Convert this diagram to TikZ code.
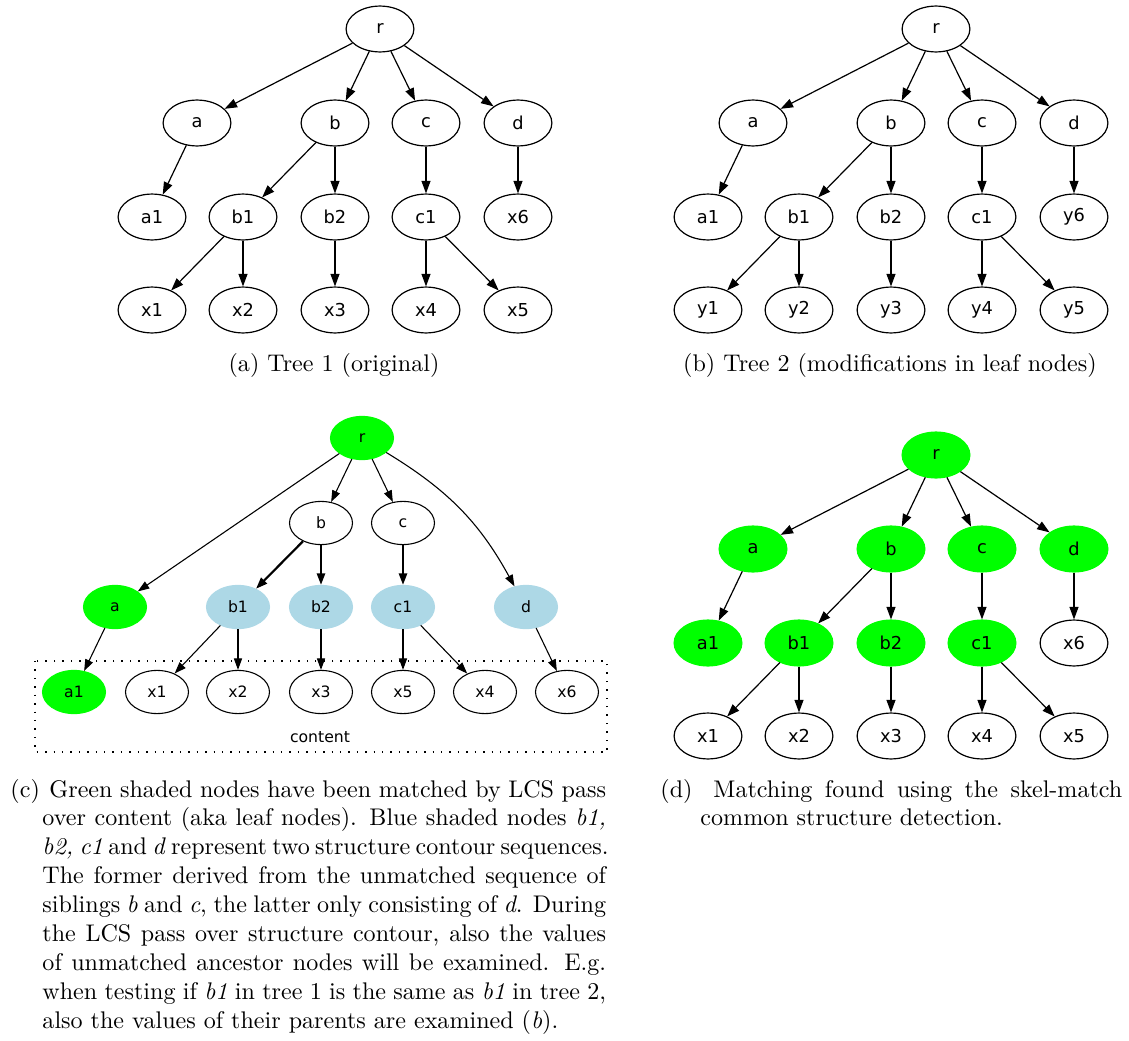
\documentclass[tikz,border=0pt]{standalone}
\usepackage{fontspec}
\usepackage{tikz}
\usetikzlibrary{
  arrows.meta,
  shapes.geometric
}
\newfontfamily\nodefont{DejaVu Sans}
\definecolor{matchgreen}{RGB}{0,255,0}
\definecolor{contourblue}{RGB}{173,216,230}
\newcommand{\vname}[1]{\textit{#1}}
\newlength{\capwidth}
\newcommand{\capline}[1]{\hbox to\capwidth{#1}}
\tikzset{
  tnode/.style={ellipse, draw, line width=0.5pt, inner sep=0pt,
    minimum width=0.99cm, minimum height=0.67cm,
    font=\nodefont\fontsize{7.4}{9}\selectfont},
  snode/.style={ellipse, draw, line width=0.45pt, inner sep=0pt,
    minimum width=0.92cm, minimum height=0.63cm,
    font=\nodefont\fontsize{6.5}{8}\selectfont},
  plain/.style={},
  matched/.style={fill=matchgreen, draw=matchgreen},
  contour/.style={fill=contourblue, draw=contourblue},
  tedge/.style={-{Triangle[length=5.2pt,width=3.7pt]}, line width=0.5pt},
  sedge/.style={-{Triangle[length=4.8pt,width=3.4pt]}, line width=0.45pt},
  heavy/.style={line width=0.9pt},
  subcap/.style={inner sep=0pt, font=\normalsize}
}

\begin{document}
\begin{tikzpicture}[x=0.0146cm, y=-0.0146cm]
  \useasboundingbox (0,0) rectangle (1129,1041);

  % trees (a), (b) and (d) share one layout
  \foreach \t/\dx/\dy/\lf/\st in {A/0/0/x/plain, B/556/0/y/plain, D/556/426/x/matched} {
    \begin{scope}[shift={(\dx,\dy)}]
      \foreach \n/\px/\py in {r/380/29, a/197/123, b/335/123, c/426/123, d/518/123,
                              a1/152/217, b1/243/217, b2/335/217, c1/426/217}
        \node[tnode, \st] (\t-\n) at (\px,\py) {\n};
      \foreach \k/\px/\py in {6/518/217, 1/152/310, 2/243/310, 3/335/310, 4/426/310, 5/518/310}
        \node[tnode] (\t-\lf\k) at (\px,\py) {\lf\k};
      \foreach \p/\c in {r/a, r/b, r/c, r/d, a/a1, b/b1, b/b2, c/c1}
        \draw[tedge] (\t-\p) -- (\t-\c);
      \foreach \p/\k in {d/6, b1/1, b1/2, b2/3, c1/4, c1/5}
        \draw[tedge] (\t-\p) -- (\t-\lf\k);
    \end{scope}
  }

  % tree (c): content pass and structure contours
  \node[snode, matched] (C-r) at (362,438) {r};
  \node[snode] (C-b) at (321,523) {b};
  \node[snode] (C-c) at (403,523) {c};
  \node[snode, matched] (C-a) at (115,607) {a};
  \node[snode, contour] (C-b1) at (238,607) {b1};
  \node[snode, contour] (C-b2) at (321,607) {b2};
  \node[snode, contour] (C-c1) at (403,607) {c1};
  \node[snode, contour] (C-d) at (526,607) {d};
  \node[snode, matched] (C-a1) at (74,692) {a1};
  \foreach \n/\px in {x1/157, x2/238, x3/321, x5/403, x4/485, x6/567}
    \node[snode] (C-\n) at (\px,692) {\n};
  \draw[dash pattern=on 0.6pt off 2.9pt, line width=0.6pt] (35,661) rectangle (607,752);
  \node[inner sep=0pt, font=\nodefont\fontsize{6.5}{8}\selectfont] (C-content) at (320,737) {content};
  \foreach \p/\c in {r/a, r/b, r/c, a/a1, b1/x1, b1/x2, b2/x3, c1/x5, c1/x4, d/x6}
    \draw[sedge] (C-\p) -- (C-\c);
  \foreach \p/\c in {b/b1, b/b2, c/c1}
    \draw[sedge, heavy] (C-\p) -- (C-\c);
  \draw[sedge] (C-r) to[bend left=15] (C-d);

  % captions
  \node[subcap, anchor=base] (cap-a) at (334,371) {(a) Tree 1 (original)};
  \node[subcap, anchor=base] (cap-b) at (890,371) {(b) Tree 2 (modifications in leaf nodes)};
  \node[subcap, anchor=base west] (cap-c-lbl) at (10,797) {(c)};
  \node[subcap, anchor=base west, text width=8.23cm, align=justify] (cap-c) at (42,797)
    {\setlength{\capwidth}{8.23cm}%
     \capline{\hspace*{2.9pt}Green shaded nodes have been matched by LCS pass}
     \capline{over content (aka leaf nodes). Blue shaded nodes \vname{b1,}}
     \capline{\vname{b2, c1} and \vname{d} represent two structure contour sequences.}
     \capline{The former derived from the unmatched sequence of}
     \capline{siblings \vname{b} and \vname{c}, the latter only consisting of \vname{d}. During}
     \capline{the LCS pass over structure contour, also the values}
     \capline{of unmatched ancestor nodes will be examined. E.g.}
     \capline{when testing if \vname{b1} in tree 1 is the same as \vname{b1} in tree 2,}
     \hbox{also the values of their parents are examined (\vname{b}).}};
  \node[subcap, anchor=base west] (cap-d-lbl) at (660,797) {(d)};
  \node[subcap, anchor=base west, text width=6.16cm, align=justify] (cap-d) at (700,797)
    {\setlength{\capwidth}{6.16cm}%
     \capline{\hspace*{5.4pt}Matching found using the skel-match}
     \hbox{common structure detection.}};
\end{tikzpicture}
\end{document}
